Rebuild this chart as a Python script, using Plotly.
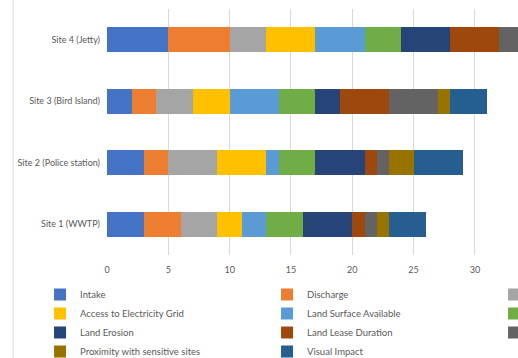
import plotly.graph_objects as go

sites = ["Site 1 (WWTP)", "Site 2 (Police station)", "Site 3 (Bird Island)", "Site 4 (Jetty)"]

intake = [3, 3, 2, 5]
discharge = [3, 2, 2, 5]
bathymetry = [3, 4, 3, 3]
electricity = [2, 4, 3, 4]
land_surface = [2, 1, 4, 4]
water_quality = [3, 3, 3, 3]
land_erosion = [4, 4, 2, 4]
land_lease = [1, 1, 4, 4]
ownership = [1, 1, 4, 3]
proximity = [1, 2, 1, 2]
visual = [3, 4, 3, 3]

series = [
    ("Intake", intake, "#4472C4"),
    ("Discharge", discharge, "#ED7D31"),
    ("Bathymetry", bathymetry, "#A5A5A5"),
    ("Access to Electricity Grid", electricity, "#FFC000"),
    ("Land Surface Available", land_surface, "#5B9BD5"),
    ("Water Quality", water_quality, "#70AD47"),
    ("Land Erosion", land_erosion, "#264478"),
    ("Land Lease Duration", land_lease, "#9E480E"),
    ("Land Ownership", ownership, "#636363"),
    ("Proximity with sensitive sites", proximity, "#997300"),
    ("Visual Impact", visual, "#255E91"),
]

x_ticks = [0, 5, 10, 15, 20, 25, 30, 35, 40, 45, 50, 55]

# The reference is a crop of a wider chart: the figure is drawn wider than
# the window, and only its left part is visible.
px_per_unit = 12.27
x_max = 57
L, T, B = 107, 9, 103
plot_w = x_max * px_per_unit
R = 10
W = int(round(L + plot_w + R))
H = 358
plot_h = H - T - B

FONT = "Lato"
GRAY = "#595959"

fig = go.Figure()
for name, vals, color in series:
    fig.add_trace(go.Bar(
        y=sites, x=vals, name=name, orientation="h",
        marker=dict(color=color, line=dict(width=0)),
    ))

fig.update_layout(
    width=W, height=H,
    margin=dict(l=L, r=R, t=T, b=B, pad=0, autoexpand=False),
    barmode="stack",
    bargap=0.6,
    plot_bgcolor="white",
    paper_bgcolor="white",
    font=dict(family=FONT, size=9, color=GRAY),
    xaxis=dict(
        range=[0, x_max], tickvals=x_ticks, showgrid=True, gridcolor="#D9D9D9",
        gridwidth=1, zeroline=False, showline=False, ticks="",
        ticklabelstandoff=8,
        tickfont=dict(family=FONT, size=9, color=GRAY),
    ),
    yaxis=dict(
        categoryorder="array", categoryarray=sites, range=[-0.5, 3.5],
        showgrid=False, zeroline=False, showline=False, ticks="",
        ticklabelstandoff=6,
        tickfont=dict(family=FONT, size=9, color=GRAY),
    ),
    legend=dict(
        orientation="h", xref="paper", yref="paper",
        x=(40 - L) / plot_w, xanchor="left",
        y=-(280 - (H - B)) / plot_h, yanchor="top",
        entrywidth=182, entrywidthmode="pixels", traceorder="normal",
        font=dict(family=FONT, size=9.5, color=GRAY),
        bgcolor="rgba(0,0,0,0)", itemclick=False,
    ),
    shapes=[dict(
        type="line", xref="paper", yref="paper",
        x0=(13 - L) / plot_w, x1=(13 - L) / plot_w,
        y0=-B / plot_h, y1=1 + T / plot_h,
        line=dict(color="#D9D9D9", width=1),
    )],
)

fig.write_html(
    "out.html",
    post_script="document.body.style.overflow='hidden';document.documentElement.style.overflow='hidden';document.body.style.margin='0';",
)
